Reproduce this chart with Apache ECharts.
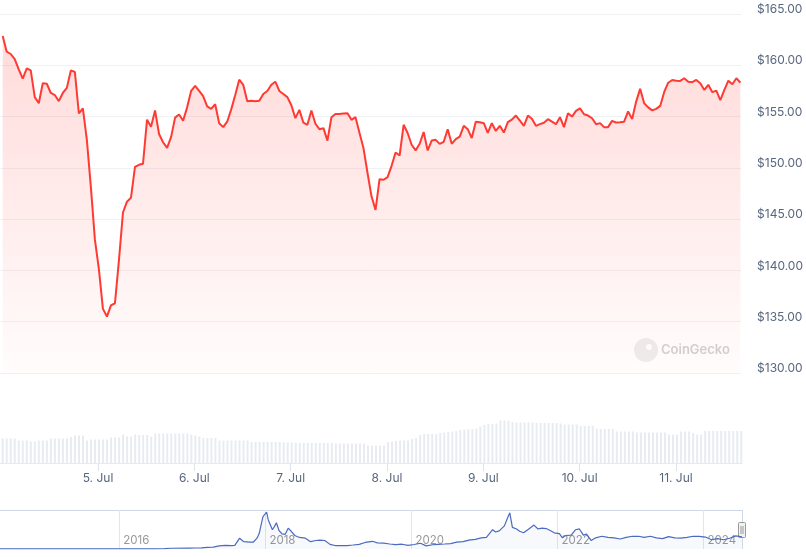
<!DOCTYPE html>
<html>
<head>
<meta charset="utf-8">
<script src="https://cdn.jsdelivr.net/npm/echarts@6/dist/echarts.min.js"></script>
<style>
html,body{margin:0;padding:0;background:#fff;}
#chart{width:806px;height:557px;}
</style>
</head>
<body>
<div id="chart"></div>
<script>
// ---------- DATA ----------
// hourly prices (USD), starting 4 Jul 2024 ~00:16
const prices = [
162.86,161.33,161.1,160.6,159.6,158.7,159.7,159.5,156.9,156.3,
158.25,158.2,157.3,157.1,156.5,157.3,157.8,159.5,159.35,155.3,
155.8,152.7,148.1,143.0,140.1,136.25,135.5,136.6,136.8,141.0,
145.65,146.7,147.1,150.1,150.3,150.4,154.7,154.0,155.6,153.3,
152.5,151.95,153.0,154.9,155.2,154.6,155.9,157.5,158.0,157.5,
157.0,156.0,155.75,156.2,154.35,153.97,154.5,155.7,157.1,158.6,
158.1,156.5,156.55,156.5,156.55,157.2,157.5,158.1,158.4,157.5,
157.2,156.9,156.1,154.85,155.65,154.4,154.2,155.6,154.3,153.77,
153.87,152.66,154.94,155.26,155.26,155.3,155.33,154.68,154.94,153.4,
151.9,149.5,147.2,145.9,148.9,148.84,149.1,150.2,151.5,151.2,
154.2,153.4,152.25,151.7,152.35,153.5,151.7,152.66,152.73,152.34,
152.54,153.77,152.34,152.8,153.05,154.1,153.77,152.9,154.5,154.45,
154.35,153.4,154.35,153.6,154.1,153.44,154.45,154.7,155.1,154.6,
154.1,155.1,154.78,154.1,154.26,154.4,154.75,154.5,154.26,154.94,
153.97,155.33,155.0,155.55,155.8,155.23,155.1,154.84,154.26,154.36,
153.97,153.97,154.58,154.42,154.45,154.5,155.5,154.75,156.46,157.7,
156.3,155.9,155.6,155.75,156.04,157.4,158.3,158.57,158.5,158.48,
158.74,158.4,158.35,158.57,158.25,157.6,158.1,157.38,157.53,156.6,
157.6,158.5,158.15,158.74,158.3
];
// hourly 24h volume (million USD)
const volumes = [
49,49,49,49,45,45,45,43,43,45,
45,45,49,49,49,49,49,52,55,55,
55,45,47,47,47,47,47,51,51,51,
57,53,53,57,56,56,56,53,59,59,
59,59,59,59,59,59,59,57,55,53,
50,50,50,50,45,45,45,45,45,45,
45,45,42,42,42,42,42,42,42,42,
41,41,41,41,40,40,40,40,40,40,
40,40,40,39,39,39,39,39,39,39,
39,35,35,35,35,35,42,43,44,45,
45,45,48,50,56,58,58,58,58,60,
61,62,63,64,66,67,68,68,69,73,
76,78,78,79,85,85,85,82,81,81,
81,81,81,80,80,80,80,80,80,79,
77,77,77,77,74,74,74,74,69,68,
68,68,68,63,63,63,63,63,61,61,
61,61,61,61,61,61,57,57,57,63,
63,63,60,57,57,64,64,64,64,64,
64,64,64,64,64
];
const dayTicks = ['2024-07-05','2024-07-06','2024-07-07','2024-07-08','2024-07-09','2024-07-10','2024-07-11'];
const monthNames = ['Jan','Feb','Mar','Apr','May','Jun','Jul','Aug','Sep','Oct','Nov','Dec'];
const yearTicks = ['2016-01-01','2018-01-01','2020-01-01','2022-01-01','2024-01-01'];
// long-term history for navigator
const histDates = [
'2014-05-15','2014-06-15','2014-08-15','2014-10-15','2015-01-15','2015-04-15','2015-07-15','2015-10-15',
'2016-01-15','2016-03-15','2016-06-15','2016-08-15','2016-09-15','2016-12-15',
'2017-01-15','2017-02-15','2017-03-15','2017-04-15','2017-05-15','2017-06-15','2017-07-15','2017-08-01','2017-08-25',
'2017-09-15','2017-10-15','2017-11-01','2017-11-20','2017-12-01','2017-12-12','2017-12-20',
'2018-01-07','2018-01-15','2018-02-05','2018-02-15','2018-02-25','2018-03-10','2018-03-25','2018-04-10','2018-04-25',
'2018-05-10','2018-05-28','2018-06-20','2018-07-20','2018-08-15','2018-09-10','2018-10-01','2018-10-25','2018-11-20','2018-12-15',
'2019-01-15','2019-02-15','2019-03-15','2019-04-15','2019-05-15','2019-06-20','2019-07-15','2019-08-15','2019-09-15','2019-10-15','2019-11-15','2019-12-15',
'2020-01-15','2020-02-15','2020-03-15','2020-04-15','2020-05-15','2020-06-15','2020-07-15','2020-08-15','2020-09-15','2020-10-15','2020-11-15','2020-12-15',
'2021-01-10','2021-02-10','2021-02-25','2021-03-15','2021-04-10','2021-04-25','2021-05-07','2021-05-20','2021-06-10','2021-06-25',
'2021-07-15','2021-08-10','2021-09-05','2021-09-25','2021-10-15','2021-11-05','2021-11-25','2021-12-15',
'2022-01-10','2022-01-25','2022-02-10','2022-03-10','2022-04-01','2022-04-20','2022-05-10','2022-05-25','2022-06-18',
'2022-07-10','2022-08-10','2022-09-10','2022-10-10','2022-11-10','2022-12-10',
'2023-01-10','2023-02-10','2023-03-10','2023-04-10','2023-05-10','2023-06-10','2023-07-10','2023-08-10','2023-09-10',
'2023-10-10','2023-11-10','2023-12-10',
'2024-01-10','2024-02-10','2024-03-10','2024-04-10','2024-05-10','2024-06-10','2024-07-11'
];
const histPrices = [
2.0,2.5,1.5,2.0,0.5,0.8,0.6,0.5,
0.5,1.5,2,6,10,12,
13,15,20,25,40,47,45,48,140,
95,90,88,140,200,330,420,
480,380,250,290,340,240,195,190,270,
230,175,150,140,95,110,115,110,60,45,
45,45,52,60,85,100,80,75,65,58,62,48,
58,75,40,55,60,65,70,90,95,115,125,145,
150,250,220,235,300,400,470,280,260,230,
210,260,310,260,270,265,240,210,
200,145,175,180,250,260,180,195,110,
145,165,150,145,130,150,
165,165,150,165,145,135,160,145,140,
150,165,165,
155,120,135,120,140,170,158
];

// ---------- BUILD ----------
const H = 3600000;
const t0 = new Date(2024, 6, 4, 0, 16).getTime();
const pxPerHour = 4.014;
const xMin = t0 - (2.7 / pxPerHour) * H;
const xMax = xMin + (742 / pxPerHour) * H;
function localTs(s){ const p = s.split('-').map(Number); return new Date(p[0], p[1]-1, p[2]).getTime(); }
const priceData = prices.map((v,i)=>[t0 + i*H, v]);
const volData = volumes.map((v,i)=>[t0 + i*H, v]);
const dayTickVals = dayTicks.map(localTs);
const yearTickVals = yearTicks.map(localTs);
const histData = histDates.map((d,i)=>[localTs(d), histPrices[i]]);

const labelColor = '#58667e';
const fontFam = 'Inter, "Noto Sans", sans-serif';

const chart = echarts.init(document.getElementById('chart'), null, {renderer:'canvas'});
chart.setOption({
  animation: false,
  backgroundColor: '#ffffff',
  grid: [
    {left:0, right:64, top:14, height:359},
    {left:0, right:64, top:373, height:90},
    {left:0, right:64, top:512, height:37}
  ],
  xAxis: [
    {type:'value', gridIndex:0, min:xMin, max:xMax, show:false, splitLine:{show:false}},
    {type:'value', gridIndex:1, min:xMin, max:xMax,
      axisLine:{show:true, lineStyle:{color:'#e6e9ef', width:1}},
      axisTick:{show:true, customValues:dayTickVals, length:8, lineStyle:{color:'#e0e4ea'}},
      axisLabel:{show:true, customValues:dayTickVals, margin:9, color:labelColor, fontSize:12, fontFamily:fontFam,
        formatter:function(v){ const d=new Date(v); return d.getDate()+'. '+monthNames[d.getMonth()]; }},
      splitLine:{show:false}
    },
    {type:'value', gridIndex:2, min:localTs('2014-05-15'), max:localTs('2024-07-11'),
      axisLine:{show:false},
      axisTick:{show:true, inside:true, customValues:yearTickVals, length:39, lineStyle:{color:'#e6e6e6'}},
      axisLabel:{show:true, inside:true, customValues:yearTickVals, margin:2, align:'left', padding:[0,0,0,4],
        color:'#999999', fontSize:11.5, fontFamily:fontFam,
        formatter:function(v){ return String(new Date(v).getFullYear()); }},
      splitLine:{show:false}
    }
  ],
  yAxis: [
    {type:'value', gridIndex:0, position:'right', min:130, max:165, interval:5,
      axisLine:{show:false}, axisTick:{show:false},
      axisLabel:{margin:16, align:'left', verticalAlign:'bottom', lineHeight:9, color:labelColor, fontSize:12, fontFamily:fontFam,
        formatter:function(v){ return '$' + v.toFixed(2); }},
      splitLine:{show:true, lineStyle:{color:'#eff2f5', width:1}}
    },
    {type:'value', gridIndex:1, min:0, max:180, show:false, splitLine:{show:false}},
    {type:'value', gridIndex:2, min:0, max:480, show:false, splitLine:{show:false}}
  ],
  series: [
    {type:'line', xAxisIndex:0, yAxisIndex:0, data:priceData, symbol:'none', z:3,
      lineStyle:{color:'#ff3a33', width:2},
      areaStyle:{origin:'start', color:new echarts.graphic.LinearGradient(0,0,0,1,[
        {offset:0, color:'rgba(255,58,51,0.26)'},
        {offset:1, color:'rgba(255,58,51,0.02)'}
      ])}
    },
    {type:'bar', xAxisIndex:1, yAxisIndex:1, data:volData, barWidth:2,
      itemStyle:{color:'#e8ecf1'}},
    {type:'line', xAxisIndex:2, yAxisIndex:2, data:histData, symbol:'none',
      lineStyle:{color:'#4a6bbf', width:1.2},
      areaStyle:{color:'rgba(51,92,173,0.05)'}
    }
  ],
  graphic: [
    {type:'line', shape:{x1:0, y1:510.5, x2:742, y2:510.5}, style:{stroke:'#cfd8e6', lineWidth:1}, silent:true},
    {type:'line', shape:{x1:742.5, y1:510, x2:742.5, y2:549}, style:{stroke:'#cfd8e6', lineWidth:1}, silent:true},
    {type:'rect', shape:{x:738.5, y:522.5, width:7, height:15, r:1}, style:{fill:'#f2f2f2', stroke:'#999999', lineWidth:1}, silent:true},
    {type:'line', shape:{x1:741, y1:526, x2:741, y2:534}, style:{stroke:'#999999', lineWidth:1}, silent:true},
    {type:'line', shape:{x1:743, y1:526, x2:743, y2:534}, style:{stroke:'#999999', lineWidth:1}, silent:true},
    {type:'circle', shape:{cx:646, cy:350, r:12}, style:{fill:'#eeeeee'}, silent:true},
    {type:'circle', shape:{cx:649, cy:347, r:3}, style:{fill:'#ffffff'}, silent:true},
    {type:'text', x:661, y:350, style:{text:'CoinGecko', fill:'#d2d2d2', font:'600 13px ' + fontFam, verticalAlign:'middle', align:'left'}, silent:true}
  ]
});
</script>
</body>
</html>
